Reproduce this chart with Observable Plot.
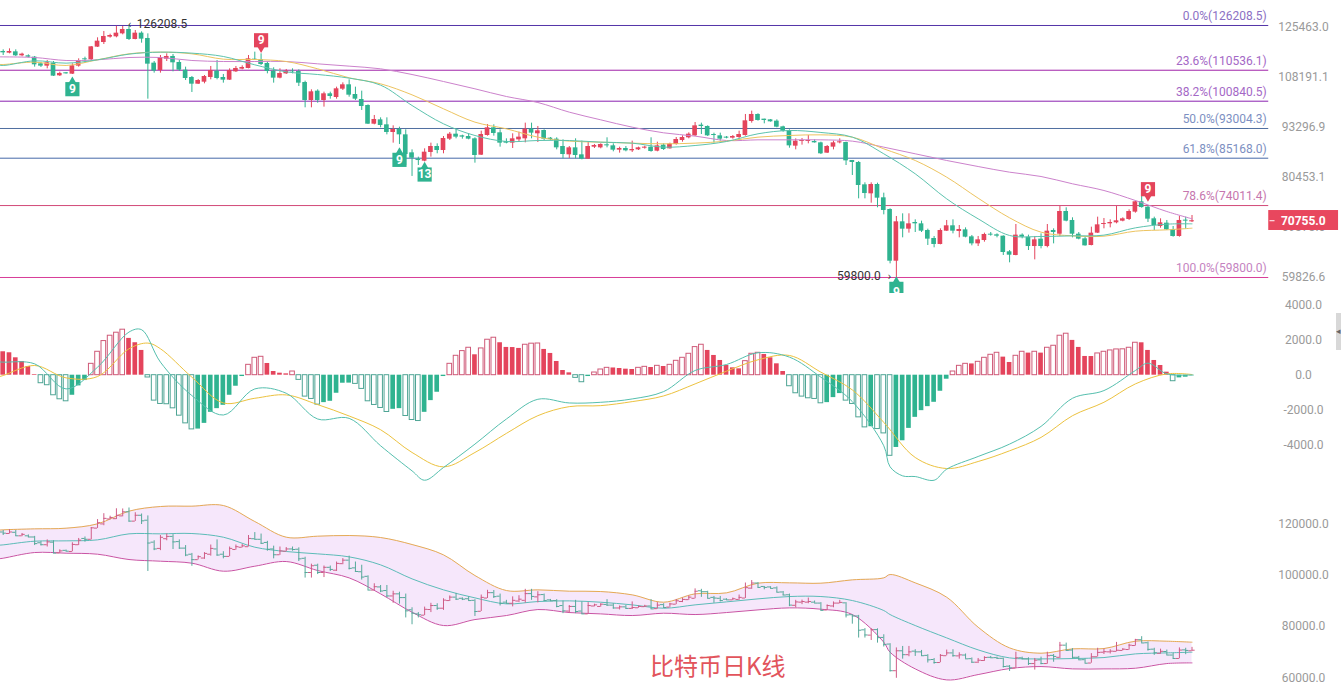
<!DOCTYPE html>
<html><head><meta charset="utf-8">
<script src="https://cdn.jsdelivr.net/npm/d3@7"></script>
<script src="https://cdn.jsdelivr.net/npm/@observablehq/plot@0.6"></script>
<style>
html,body{margin:0;padding:0;background:#fff;overflow:hidden}
#chart{position:relative;width:1341px;height:687px;overflow:hidden}
#title{position:absolute;left:650px;top:650px;font:24px/30px "Noto Sans CJK SC",sans-serif;color:#e2545c;white-space:nowrap}
#handle{position:absolute;left:1336px;top:313px;width:5px;height:37px;background:#d8d8d8;font:9px/37px Roboto;color:#666;overflow:hidden}
</style></head><body>
<div id="chart"></div>
<script>
const open=[116850,116270,116730,115360,115360,114900,112650,111880,112880,108720,
109690,109250,111880,114330,114000,118360,120000,121920,122040,123120,
124720,121080,123370,121440,112880,110450,114220,115130,113100,110560,
108180,106060,106690,108180,110230,108180,107330,110010,110890,111110,
114220,114000,112770,110230,107970,109360,110230,110120,106590,101050,
103890,101050,103070,101950,104500,105860,102860,101350,99560,94200,
95420,94020,91910,92730,91270,86530,84920,84420,86620,88170,
87130,90110,91450,91000,90820,90200,85930,91090,93190,91820,
89490,89050,89930,90200,92820,91550,92450,90380,90110,88170,
86020,87820,86020,84920,87990,87820,88610,88340,87220,87650,
87050,87300,87730,88000,86960,88520,87560,88700,89750,90470,
91000,93930,93560,91360,91000,90650,90380,90550,91090,94950,
96950,95610,95420,95050,93460,92360,88260,89490,89490,89490,
89130,86450,88000,89130,89220,84590,84090,78700,76630,78780,
75730,73150,62760,70530,69010,70390,70110,68740,67130,65950,
68600,69700,68540,68870,67460,66070,66730,67990,67860,67590,
64530,63830,67800,67390,65550,67000,65550,68740,67990,72720,
70810,67990,67060,65750,68200,69970,70110,70320,70670,71020,
72580,74840,73660,71160,69560,70250,68870,67530,70880,70530];
const close=[116390,116850,115360,115930,114900,112320,111880,112990,108610,109480,
109360,111990,113660,114000,118470,120480,122160,122520,123370,124720,
121080,123370,121200,112540,110230,114780,115130,112990,110560,107860,
106060,107220,108500,110450,107860,107330,110450,111110,111440,114330,
114000,112430,110120,107970,109470,110230,110010,106380,101050,103680,
101050,103070,102250,104610,105860,102660,101450,99270,94200,95520,
93830,91910,92730,91270,86100,85160,84580,86700,88170,87130,
90290,91450,90650,90650,90110,85850,91360,93190,91640,89050,
89050,90200,90650,92820,91730,92360,90110,90020,87820,86100,
87820,85850,84920,88170,88430,88700,88340,87220,87650,87050,
87390,87820,88000,86870,88340,87390,88790,90020,90550,91450,
93740,93560,91000,91090,90110,90380,90820,91360,95140,96950,
95240,95240,94860,93370,92270,88340,89580,89750,89750,89130,
86280,88170,89130,89400,84500,84090,78550,76700,78780,75650,
72940,62760,70530,69010,70110,70110,68600,67000,65950,68740,
69700,68600,68940,67390,66070,66860,67930,67800,67590,64400,
63890,67800,67390,65550,66860,65550,68600,68330,72720,70670,
67990,67000,65680,68200,69900,70180,70390,70740,71160,72720,
74840,73580,71090,69760,70320,68870,67530,70810,70670,70755];
const high=[117420,117770,117420,116270,115700,115130,113100,113770,113430,109900,
109800,112650,114330,114900,118590,121680,123980,123000,125900,125830,
126208.5,124350,123860,123120,113430,115470,116040,115810,113770,111550,
108500,107540,108820,111770,113770,109150,110995,111770,111990,115470,
116620,116040,113210,111330,110995,110780,110995,110670,107010,104300,
104300,103580,103580,105130,106480,107430,105130,103890,99760,96660,
95990,95990,93740,93370,92640,87300,85430,87560,89050,88870,
90820,91910,92910,91180,91550,90470,92270,94110,94020,92640,
90200,91550,92000,94490,94490,93560,92640,90550,90470,89930,
88170,90200,89580,89310,88700,88870,90470,88870,88000,88170,
89580,88000,88260,90470,89310,88870,89050,90550,91000,91820,
94670,94490,93740,91730,91730,90820,91090,92270,96950,97910,
97140,95610,95520,95420,93650,92640,90200,90290,91090,89930,
89310,88430,89580,90200,89310,84590,84340,79170,79170,79090,
76780,73300,71650,72220,72220,70950,70670,69010,67530,69080,
70810,70950,69760,69280,67730,67530,68200,68330,68060,67660,
64780,69970,68060,67800,67530,68060,69970,69080,73800,73520,
71370,68330,67390,69420,71510,71230,70950,73800,71370,73080,
74990,76030,73950,71510,71160,70810,69560,71650,71510,71860];
const low=[115470,116040,115130,115020,114680,111550,111440,110995,108500,108500,
109250,109140,111550,112880,113770,118240,119290,121560,121680,122760,
120720,120960,119760,101450,109580,109580,113430,110010,110120,107220,
103480,105960,106170,107430,107430,106380,107220,109790,110670,110995,
113770,112100,109360,106380,107750,109140,109360,105330,98880,98880,
100250,99080,101450,101450,104090,102050,101050,98100,94110,94020,
93190,91270,89050,88700,83340,80680,83340,84250,85430,86280,
86280,89750,90200,90110,89930,83920,85850,90920,90920,88000,
88870,87650,89310,89130,90200,89220,89750,89750,87300,85010,
85090,85010,84750,84840,87650,87560,87820,86790,86450,86790,
86620,87130,87480,86700,86790,87130,87480,88520,89310,90200,
90820,91360,90820,89050,89580,90200,90110,90200,90920,94490,
95050,94300,94770,93190,92000,87730,87300,88520,88870,89050,
86100,86360,87300,88870,83340,80910,75500,75500,74540,73520,
72000,62270,59800,67260,68200,68330,68330,65750,65300,65880,
68540,68060,67260,67260,65680,65550,66400,67590,67260,63830,
62460,63770,67060,64780,63010,65100,65300,66070,67530,70530,
67260,66860,65620,65680,68130,69080,69280,70110,70530,70810,
72360,73440,70390,68740,69210,68740,67390,67390,69010,70390];

const maIdx=[-1,0,5,10,15,20,25,30,35,40,45,50,55,60,65,70,75,80,85,90,95,100,105,110,115,120,125,130,135,140,145,150,155,160,165,170,175,180,185,189];
const maShort=[112350,112100,113660,112880,114000,115930,116620,116270,115130,112320,110010,109140,107970,105750,99560,94300,91090,89490,89750,89750,89310,89050,88000,88430,89490,91550,92450,91910,90650,86280,81310,75500,71160,67730,67530,67660,67800,69280,70040,70110];
const maMid=[112500,112430,113210,112100,114000,116040,116620,116040,114220,114110,113430,110995,108080,106170,102760,98590,94770,92910,90650,89580,89310,89050,88870,89050,89580,90650,91090,91270,90650,87560,84590,80510,75650,71370,68400,67660,67590,68600,68870,69210];
const maLong=[115000,114990,114780,113770,114000,114780,114780,113770,113430,113430,113430,112650,111880,110995,109140,106900,104610,102250,100450,97620,95420,93370,91820,90920,89750,89930,89930,89930,89580,88000,86280,84590,83090,81710,80670,78940,77390,75130,72720,71160];

const fibValues=[126208.5,110536.1,100840.5,93004.3,85168.0,74011.4,59800.0];
const fibLabels=["0.0%(126208.5)","23.6%(110536.1)","38.2%(100840.5)","50.0%(93004.3)","61.8%(85168.0)","78.6%(74011.4)","100.0%(59800.0)"];
const fibLineColors=["#5335a8","#a020a8","#8a22b0","#4f6fa0","#4669a8","#d24a78","#d83d98"];
const fibTextColors=["#8c70c4","#a468c6","#a468c6","#7d8fc2","#7d8fc2","#c676ae","#c583bf"];

const priceTicks=[125463.0,108191.1,93296.9,80453.1,69373.6,59826.6];
const macdTicks=[4000,2000,0,-2000,-4000];
const bollTicks=[120000,100000,80000,60000];
const lastPrice=70755.0;

const tdIdx=[11,41,63,67,142,182];
const tdPrice=[104500,120800,84750,81140,57820,77690];
const tdText=["9","9","9","13","9","9"];
const tdUp=[false,true,false,false,false,true];

const macdHist=[1330,1273,988,779,494,38,-456,-570,-1140,-1368,
-1482,-1140,-608,-304,646,1330,1938,2242,2413,2584,
2090,1843,1406,-130,-1444,-1634,-1650,-1881,-2299,-2736,
-3078,-3060,-2736,-2109,-1900,-1710,-1140,-627,-76,589,
988,1045,665,209,114,76,209,-266,-1216,-1349,
-1672,-1558,-1482,-1026,-456,-450,-494,-779,-1482,-1691,
-1862,-2090,-1938,-1900,-2318,-2546,-2603,-2109,-1444,-969,
-76,646,1102,1368,1558,1159,1520,2014,2128,1843,
1577,1570,1520,1729,1790,1800,1463,1235,779,266,
133,-152,-399,-76,152,323,418,410,380,342,
323,418,475,437,532,494,589,817,988,1216,
1596,1729,1406,1121,836,551,418,361,798,1216,
1273,1178,988,646,209,-627,-1026,-1216,-1311,-1349,
-1596,-1558,-1273,-1045,-1444,-1634,-2394,-2964,-2926,-3059,
-3306,-4579,-4104,-3724,-3021,-2394,-2014,-1786,-1539,-912,
-228,209,532,646,640,760,988,1159,1273,1026,
722,1102,1330,1254,1330,1254,1558,1672,2242,2356,
1976,1577,1064,1060,1235,1330,1406,1463,1470,1558,
1843,1840,1406,836,551,171,-342,-152,-114,-38];

const difIdx=[-1,0,5,10,15,20,22,25,30,35,40,45,50,55,60,65,67,70,75,80,85,90,95,100,105,110,115,120,125,130,135,140,141,143,145,148,150,155,160,165,170,175,180,182,185,189];
const difVal=[760,741,646,-779,456,2451,2584,741,-1159,-2261,-779,-1026,-2489,-2451,-4009,-5434,-5966,-5244,-3914,-2489,-1368,-1577,-1539,-1349,-931,266,608,1273,1026,-114,-1501,-4009,-5206,-5719,-5757,-5966,-5339,-4617,-3914,-2907,-1311,-874,266,684,76,19];
const deaIdx=[-1,0,5,10,15,20,23,25,30,35,40,45,50,55,60,65,70,75,80,85,90,95,100,105,110,115,120,125,130,135,140,145,150,155,160,165,170,175,180,185,189];
const deaVal=[-120,-19,551,-152,-76,1501,1824,1501,-114,-1577,-1311,-1121,-1672,-2318,-3097,-4389,-5206,-4389,-3306,-2299,-1786,-1729,-1501,-1178,-494,228,874,1121,171,-836,-2679,-4674,-5301,-4902,-4294,-3534,-2299,-1539,-494,76,38];

const bollIdx=[-1,0,5,10,15,20,25,30,35,40,45,50,55,60,65,70,75,80,85,90,95,100,105,110,115,120,125,130,135,140,141,145,150,155,160,165,170,175,180,185,189];
const bollUpper=[117500,117680,118070,118330,120020,124960,126780,126910,127170,120930,114820,115210,115470,114690,111960,107930,99870,94020,94280,93760,93630,92330,89470,92720,93110,96880,97010,96880,98180,98960,100260,97010,91420,79720,71660,69580,71270,71400,74260,74260,73870];
const bollMid=[111650,111830,113260,113390,113780,116120,116120,116250,114820,110920,109230,108320,107150,104030,98570,94280,91160,88820,89730,89990,89470,88430,87130,88430,89600,90770,91680,91680,90120,86220,84660,80370,75560,70880,67760,67370,67500,67890,69320,69710,69970];
const bollLower=[106300,106630,108840,108580,108190,106110,105460,104680,101560,103510,105330,101820,98960,92720,85570,80370,82710,84270,86610,85440,84920,84270,85180,84660,85440,86480,87260,86740,84660,73870,69970,63470,59180,61260,63600,64380,63470,63470,63730,65550,65810];

const RED="#e4445c", GREEN="#2fb390";
const LINE_CURVE="catmull-rom";
const candles=open.map((o,i)=>({i,o,c:close[i],h:high[i],l:low[i]}));
const ups=candles.filter(d=>d.c>=d.o), downs=candles.filter(d=>d.c<d.o);
const series=(idx,val)=>idx.map((i,k)=>({i,v:val[k]}));
const xScale={domain:[0,189],range:[2.7,1191.5],axis:null};
const base={width:1341,marginLeft:0,marginRight:38,marginTop:0,marginBottom:0,
  style:{fontFamily:"Roboto",fontSize:"12px",background:"transparent",overflow:"hidden"}};
const axis=(ticks,fmt,extra={})=>Plot.axisY(ticks,{anchor:"right",tickSize:0,tickPadding:0,textAnchor:"middle",tickFormat:fmt,fill:"#9a9a9a",fontSize:12,label:null,...extra});
const XEND=201.2, XTAG1=201.2, XTAG2=212.3, XMID=206.7;
const fix1=d=>d.toFixed(1);

// --- main panel ---
const fibRows=fibValues.map((v,k)=>({v,t:fibLabels[k],lc:fibLineColors[k],tc:fibTextColors[k]}));
const tdRows=tdIdx.map((i,k)=>({i,p:tdPrice[k],t:tdText[k],up:tdUp[k]}));
const tdRed=tdRows.filter(d=>d.up), tdGreen=tdRows.filter(d=>!d.up);
const tdClipped=tdRows.filter(d=>d.i===142), tdWhole=tdRows.filter(d=>d.i!==142);
const candleMarks=(rows,col)=>[
  Plot.ruleX(rows,{x:"i",y1:"l",y2:"h",stroke:col,strokeWidth:1}),
  Plot.rect(rows,{x1:d=>d.i-0.37,x2:d=>d.i+0.37,y1:"o",y2:"c",fill:col})
];
const main=Plot.plot({...base,height:293,x:xScale,
  y:{type:"log",domain:[57030,135910],range:[293,0]},
  marks:[
    Plot.ruleY(fibRows,{y:"v",x1:-1,x2:XEND,stroke:d=>d.lc,strokeWidth:1}),
    ...candleMarks(ups,RED),...candleMarks(downs,GREEN),
    Plot.line(series(maIdx,maLong),{x:"i",y:"v",stroke:"#cc82cc",strokeWidth:1,curve:LINE_CURVE}),
    Plot.line(series(maIdx,maMid),{x:"i",y:"v",stroke:"#edc460",strokeWidth:1,curve:LINE_CURVE}),
    Plot.line(series(maIdx,maShort),{x:"i",y:"v",stroke:"#5cc3ae",strokeWidth:1,curve:LINE_CURVE}),
    Plot.text(fibRows,{x:XEND,y:"v",text:"t",textAnchor:"end",fill:d=>d.tc,fontSize:12,dx:-2,dy:-9.5}),
    axis(priceTicks,fix1,{dy:-0.5}),
    Plot.rect([lastPrice],{x1:XTAG1,x2:XTAG2,y1:72930,y2:68740,fill:"#e8475e"}),
    Plot.ruleY([lastPrice],{x1:XTAG1+0.2,x2:XTAG1+1,stroke:"#fff",strokeWidth:1}),
    Plot.text([lastPrice],{x:XMID,y:d=>d,text:fix1,fill:"#fff",fontWeight:"bold",fontSize:12}),
    Plot.text([126208.5],{x:21.25,y:d=>d,text:fix1,textAnchor:"start",fill:"#333",fontSize:12,dy:-1}),
    Plot.text(["‹"],{x:20.1,y:126208.5,text:d=>d,fill:"#333",fontSize:11,dy:-1}),
    Plot.text([59800.0],{x:139.5,y:d=>d,text:fix1,textAnchor:"end",fill:"#333",fontSize:12,dy:-1}),
    Plot.text(["›"],{x:140.9,y:59800,text:d=>d,fill:"#333",fontSize:11,dy:-1}),
    Plot.dot(tdGreen,{x:"i",y:"p",symbol:"square",r:8,fill:GREEN}),
    Plot.dot(tdGreen,{x:"i",y:"p",symbol:"triangle",r:3,fill:GREEN,dy:-8}),
    Plot.dot(tdRed,{x:"i",y:"p",symbol:"square",r:8,fill:RED}),
    Plot.dot(tdRed,{x:"i",y:"p",symbol:"triangle",r:3,fill:RED,rotate:180,dy:8}),
    Plot.text(tdWhole,{x:"i",y:"p",text:"t",fill:"#fff",fontSize:12,fontWeight:"bold"}),
    Plot.text(tdClipped,{x:"i",y:"p",text:"t",fill:"#fff",fontSize:12,fontWeight:"bold",dy:3})
  ]});

// --- MACD panel ---
const histRows=macdHist.map((h,i)=>{
  const prev=i?macdHist[i-1]:null;
  return {i,h,hollow:prev!==null&&(h>=0?h>prev:h<prev)};
});
const histGroup=(f,opts)=>Plot.rect(histRows.filter(f),{x1:d=>d.i-0.37,x2:d=>d.i+0.37,y1:0,y2:"h",...opts});
const macd=Plot.plot({...base,height:197,x:xScale,
  y:{domain:[-6549,4640],range:[197,0]},
  marks:[
    histGroup(d=>d.h>=0&&!d.hollow,{fill:RED}),
    histGroup(d=>d.h<0&&!d.hollow,{fill:GREEN}),
    histGroup(d=>d.h>=0&&d.hollow,{fill:"#fff",stroke:"#cf5a78",strokeWidth:1}),
    histGroup(d=>d.h<0&&d.hollow,{fill:"#fff",stroke:"#4fa595",strokeWidth:1}),
    Plot.line(series(deaIdx,deaVal),{x:"i",y:"v",stroke:"#ecc23f",strokeWidth:1,curve:LINE_CURVE}),
    Plot.line(series(difIdx,difVal),{x:"i",y:"v",stroke:"#55bfae",strokeWidth:1,curve:LINE_CURVE}),
    axis(macdTicks,fix1)
  ]});

// --- BOLL panel ---
const bollRows=bollIdx.map((i,k)=>({i,u:bollUpper[k],m:bollMid[k],l:bollLower[k]}));
const barMarks=(rows,col)=>[
  Plot.ruleX(rows,{x:"i",y1:"l",y2:"h",stroke:col,strokeWidth:1}),
  Plot.ruleY(rows,{y:"o",x1:d=>d.i-0.5,x2:"i",stroke:col,strokeWidth:1}),
  Plot.ruleY(rows,{y:"c",x1:"i",x2:d=>d.i+0.5,stroke:col,strokeWidth:1})
];
const boll=Plot.plot({...base,height:197,x:xScale,
  y:{domain:[56214,133025],range:[197,0]},
  marks:[
    Plot.areaY(bollRows,{x:"i",y1:"l",y2:"u",fill:"#f6e7fb",curve:LINE_CURVE}),
    Plot.line(bollRows,{x:"i",y:"u",stroke:"#e5ab55",strokeWidth:1,curve:LINE_CURVE}),
    Plot.line(bollRows,{x:"i",y:"l",stroke:"#c953a4",strokeWidth:1,curve:LINE_CURVE}),
    Plot.line(bollRows,{x:"i",y:"m",stroke:"#5cbcb8",strokeWidth:1,curve:LINE_CURVE}),
    ...barMarks(ups,"#cf5c86"),...barMarks(downs,"#55a89a"),
    axis(bollTicks,fix1)
  ]});

const root=document.getElementById("chart");
root.append(main,macd,boll);
const title=document.createElement("div");title.id="title";title.textContent="比特币日K线";root.append(title);
const handle=document.createElement("div");handle.id="handle";handle.textContent="◂";root.append(handle);
</script>
</body></html>
